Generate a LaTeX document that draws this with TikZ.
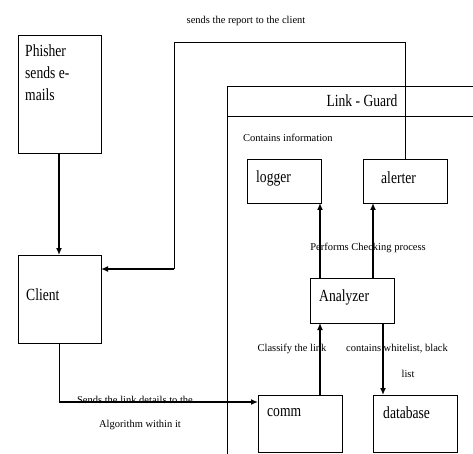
\documentclass[tikz,border=0pt]{standalone}
\usepackage{fontspec}
\setmainfont{Liberation Serif}
\newfontfamily\condserif[FakeStretch=0.8]{Liberation Serif}
\usetikzlibrary{arrows.meta}
\begin{document}
\begin{tikzpicture}[x=1pt,y=-1pt,
  box/.style={draw,line width=0.8pt},
  boxtxt/.style={anchor=west,inner sep=0pt,font=\condserif\fontsize{17}{22}\selectfont},
  lbl/.style={inner sep=0pt,font=\fontsize{10.5}{12}\selectfont},
  thin/.style={line width=0.8pt},
  thick/.style={line width=1.8pt,-{Latex[length=7pt,width=6pt]}}]
\useasboundingbox (0,0) rectangle (473,454);
\begin{scope}
\clip (0,0) rectangle (473,454);
% Link-Guard container
\draw[thin] (480,86) -- (227,86) -- (227,460);
\draw[thin] (227,116) -- (480,116);
\end{scope}
\node[font=\condserif\fontsize{17}{20}\selectfont,inner sep=0pt] (lg) at (362,101) {Link - Guard};
\node[lbl,anchor=west] (ci) at (243,138) {Contains information};

% boxes
\draw[box] (18,35) rectangle (101,153);
\node[boxtxt,align=left,anchor=north west] (ph) at (25,45) {Phisher\\sends e-\\mails};
\draw[box] (18,255) rectangle (101,343);
\coordinate (clientTop) at (59,255);
\coordinate (clientRight) at (101,269);
\coordinate (clientBottom) at (59,343);
\node[boxtxt] (cl) at (26,295) {Client};
\draw[box] (247,159) rectangle (321,203);
\node[boxtxt] (lo) at (256,178) {logger};
\draw[box] (363,159) rectangle (447,203);
\node[boxtxt] (al) at (381,178) {alerter};
\draw[box] (310,278) rectangle (394,323);
\node[boxtxt] (an) at (319,297) {Analyzer};
\draw[box] (258,395) rectangle (342,452);
\node[boxtxt] (co) at (267,413) {comm};
\draw[box] (373,395) rectangle (457,452);
\node[boxtxt] (db) at (383,413) {database};

\coordinate (phB) at (59,153);
\coordinate (alT) at (405,159);
\coordinate (r1) at (405,42);
\coordinate (r2) at (174,42);
\coordinate (r3) at (174,269);
\coordinate (c1) at (59,402);
\coordinate (comL) at (258,402);
\coordinate (comT) at (320,395);
\coordinate (anB1) at (320,323);
\coordinate (anT1) at (320,278);
\coordinate (loB) at (320,203);
\coordinate (anT2) at (373,278);
\coordinate (alB) at (373,203);
\coordinate (anB2) at (383,323);
\coordinate (dbT) at (383,395);

% connectors
\draw[thick] (phB) -- (clientTop);
\draw[thin] (alT) -- (r1) -- (r2) -- (r3);
\draw[thick] (r3) -- (clientRight);
\draw[thin] (clientBottom) -- (c1);
\draw[thick] (c1) -- (comL);
\draw[thick] (comT) -- (anB1);
\draw[thick] (anT1) -- (loB);
\draw[thick] (anT2) -- (alB);
\draw[thick] (anB2) -- (dbT);

% labels
\node[lbl] (l1) at (246,21) {sends the report to the client};
\node[lbl] (l2) at (135,400) {Sends the link details to the};
\node[lbl] (l3) at (140,425) {Algorithm within it};
\node[lbl] (l4) at (368,248) {Performs Checking process};
\node[lbl] (l5) at (292,349) {Classify the link};
\node[lbl] (l6) at (397,349) {contains whitelist, black};
\node[lbl] (l7) at (408,374) {list};
\end{tikzpicture}
\end{document}
